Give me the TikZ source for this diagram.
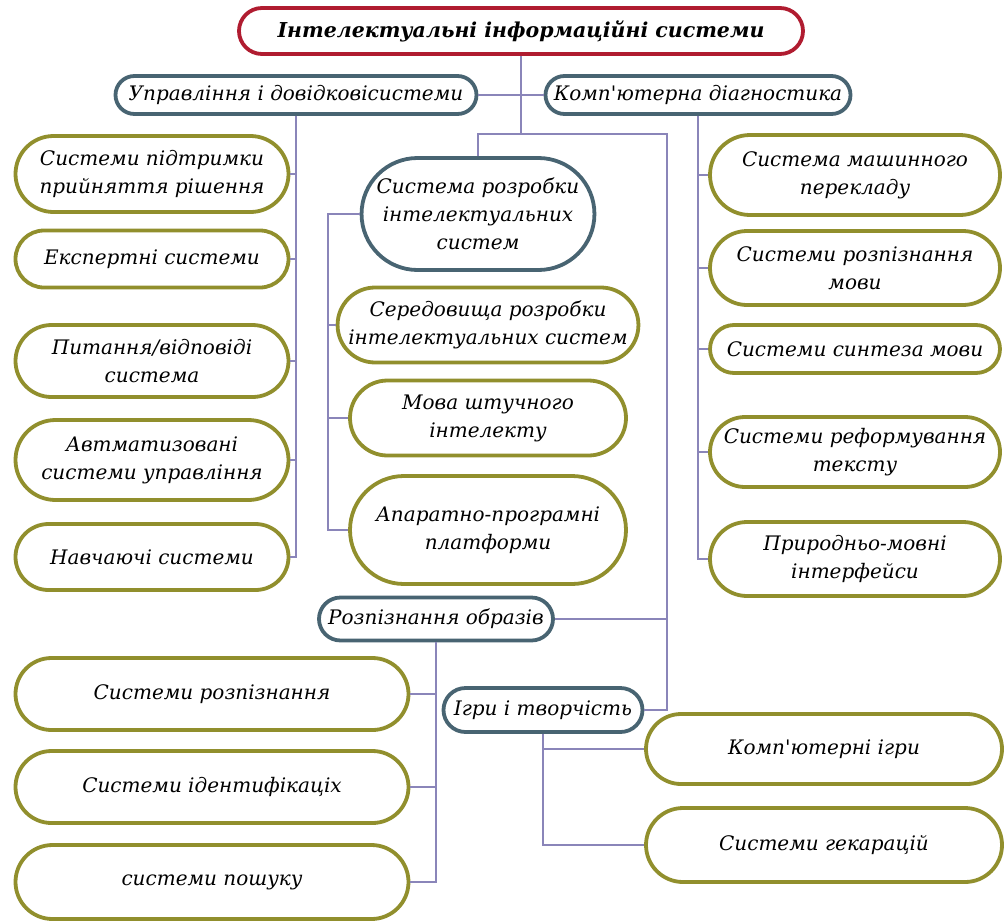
\documentclass[tikz,border=0pt]{standalone}
\usepackage{fontspec}
\setmainfont{DejaVu Serif}[Ligatures=TeXOff]
\usepackage{tikz}
\usetikzlibrary{positioning,shapes.misc}
\definecolor{crimson}{RGB}{176,28,48}
\definecolor{slate}{RGB}{72,100,114}
\definecolor{olivebrd}{RGB}{145,143,45}
\definecolor{lavline}{RGB}{138,133,185}
\tikzset{
  rootbox/.style={draw=crimson, line width=3.8pt, rounded rectangle, fill=white, align=center, inner sep=2pt, font=\fontsize{20.5}{26}\selectfont\itshape\bfseries},
  grpbox/.style={draw=slate, line width=3.8pt, rounded rectangle, fill=white, align=center, inner sep=2pt, font=\fontsize{20}{28}\selectfont\itshape},
  leaf/.style={draw=olivebrd, line width=3.8pt, rounded rectangle, fill=white, align=center, inner sep=2pt, minimum height=#1, font=\fontsize{20}{28}\selectfont\itshape},
  leaf/.default={60},
  link/.style={draw=lavline, line width=1.6pt}
}

\begin{document}
\begin{tikzpicture}[x=1pt,y=-1pt]
    \useasboundingbox (0,0) rectangle (1006,921);
    \node[rootbox, minimum width=568, minimum height=46] (top) at (521,31) {Інтелектуальні інформаційні системи};
    \node[grpbox, minimum width=365, minimum height=38] (upr) at (296,95) {Управління і довідковісистеми};
    \node[grpbox, minimum width=309, minimum height=38] (diag) at (698,95) {Комп'ютерна діагностика};
    \node[grpbox, minimum width=226, minimum height=112] (dev) at (478,214) {Система розробки\\ інтелектуальних\\ систем};
    \node[grpbox, minimum width=238, minimum height=43] (pat) at (436,619) {Розпізнання образів};
    \node[grpbox, minimum width=203, minimum height=44] (game) at (543,710) {Ігри і творчість};

    \node[leaf=76, minimum width=277] (l1) at (152,174) {Системи підтримки\\ прийняття рішення};
    \node[leaf=57, minimum width=277] (l2) at (152,259) {Експертні системи};
    \node[leaf=72, minimum width=277] (l3) at (152,361) {Питання/відповіді\\ система};
    \node[leaf=80, minimum width=277] (l4) at (152,460) {Автматизовані\\ системи управління};
    \node[leaf=66, minimum width=277] (l5) at (152,557) {Навчаючі системи};

    \node[leaf=75, minimum width=280] (m1) at (488,325) {Середовища розробки\\ інтелектуальних систем};
    \node[leaf=75, minimum width=280] (m2) at (488,418) {Мова штучного\\ інтелекту};
    \node[leaf=108, minimum width=280] (m3) at (488,530) {Апаратно-програмні\\ платформи};

    \node[leaf=80, minimum width=294] (r1) at (855,175) {Система машинного\\ перекладу};
    \node[leaf=74, minimum width=294] (r2) at (855,268) {Системи розпізнання\\ мови};
    \node[leaf=48, minimum width=294] (r3) at (855,349) {Системи синтеза мови};
    \node[leaf=70, minimum width=294] (r4) at (855,452) {Системи реформування\\ тексту};
    \node[leaf=74, minimum width=294] (r5) at (855,559) {Природньо-мовні\\ інтерфейси};

    \node[leaf=72, minimum width=397] (b1) at (212,694) {Системи розпізнання};
    \node[leaf=72, minimum width=397] (b2) at (212,787) {Системи ідентифікаціх};
    \node[leaf=74, minimum width=397] (b3) at (212,882) {системи пошуку};

    \node[leaf=70, minimum width=360] (g1) at (824,749) {Комп'ютерні ігри};
    \node[leaf=74, minimum width=360] (g2) at (824,845) {Системи гекарацій};

    \coordinate (hub) at (521,134);
    \coordinate (mtr) at (328,214);
    \coordinate (rtr) at (667,134);

    \draw[link] (top.south) -- (hub);
    \draw[link] (upr.east) -- (diag.west);
    \draw[link] (dev.north) |- (rtr) |- (game.east);
    \draw[link] (pat.east) -- (pat.east -| rtr);

    \draw[link] (upr.south) |- (l5.east);
    \foreach \n in {l1,l2,l3,l4}
      \draw[link] (\n.east) -- (\n.east -| upr.south);

    \draw[link] (dev.west) -- (mtr) |- (m3.west);
    \foreach \n in {m1,m2}
      \draw[link] (\n.west) -- (\n.west -| mtr);

    \draw[link] (diag.south) |- (r5.west);
    \foreach \n in {r1,r2,r3,r4}
      \draw[link] (\n.west) -- (\n.west -| diag.south);

    \draw[link] (pat.south) |- (b3.east);
    \foreach \n in {b1,b2}
      \draw[link] (\n.east) -- (\n.east -| pat.south);

    \draw[link] (game.south) |- (g2.west);
    \draw[link] (g1.west) -- (g1.west -| game.south);
\end{tikzpicture}
\end{document}
